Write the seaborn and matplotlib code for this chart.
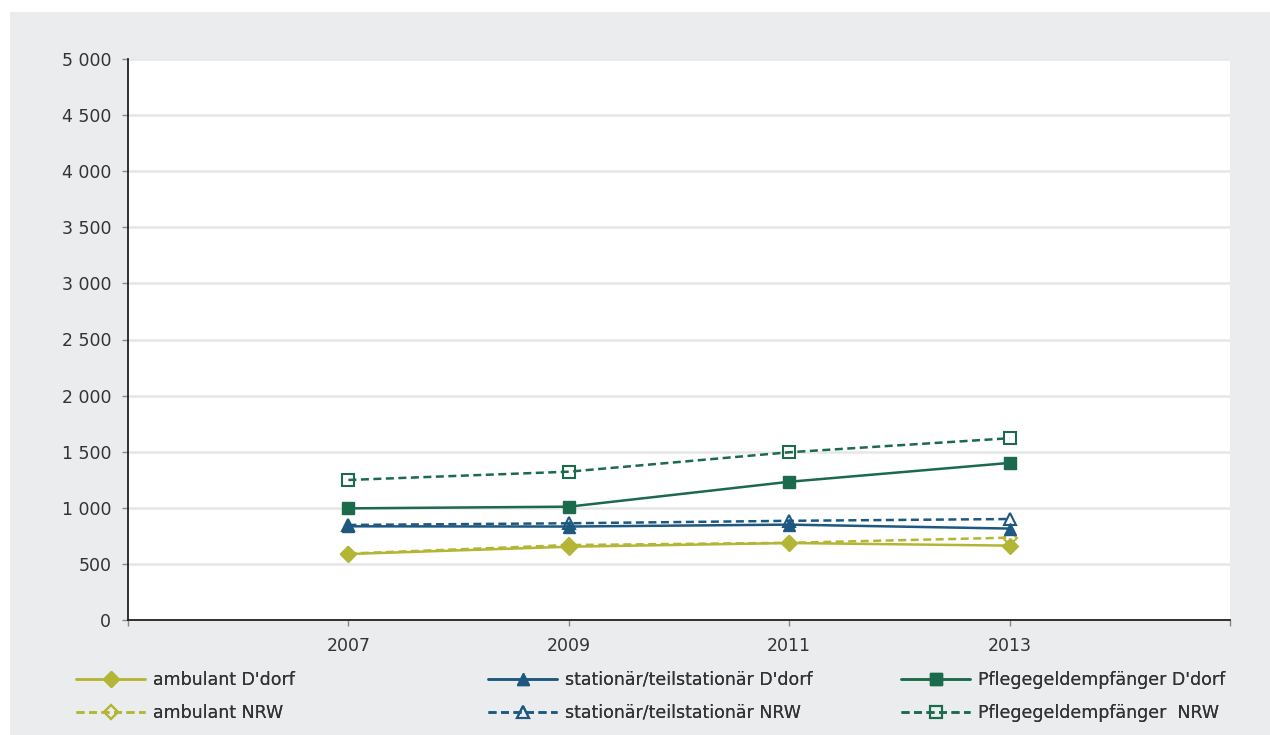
import numpy as np
import pandas as pd
import matplotlib
matplotlib.use("Agg")
import matplotlib.pyplot as plt
import seaborn as sns
from matplotlib.patches import Rectangle
from matplotlib.ticker import FuncFormatter

# ======================
# Daten
# ======================
years = [2007, 2009, 2011, 2013]

ambulant_ddorf = [588, 653, 686, 663]
ambulant_nrw = [592, 668, 688, 734]
stationaer_ddorf = [835, 833, 850, 815]
stationaer_nrw = [847, 862, 884, 900]
pflegegeld_ddorf = [995, 1010, 1232, 1400]
pflegegeld_nrw = [1248, 1322, 1495, 1620]

labels = [
    "ambulant D'dorf", "ambulant NRW",
    "stationär/teilstationär D'dorf", "stationär/teilstationär NRW",
    "Pflegegeldempfänger D'dorf", "Pflegegeldempfänger  NRW",
]
y_ticks = [0, 500, 1000, 1500, 2000, 2500, 3000, 3500, 4000, 4500, 5000]
x_ticks = [2005, 2007, 2009, 2011, 2013, 2015]

c_amb = "#b3b634"
c_stat = "#1d5880"
c_pfl = "#1b6a4c"
bg = "#ebecee"
txt = "#333333"

series = [
    (ambulant_ddorf, c_amb, "D", False),
    (ambulant_nrw, c_amb, "D", True),
    (stationaer_ddorf, c_stat, "^", False),
    (stationaer_nrw, c_stat, "^", True),
    (pflegegeld_ddorf, c_pfl, "s", False),
    (pflegegeld_nrw, c_pfl, "s", True),
]

sns.set_style("white")
plt.rcParams["font.family"] = ["DejaVu Sans"]
plt.rcParams["font.size"] = 12.5

fig = plt.figure(figsize=(12.7, 7.35), dpi=100, facecolor="white")
fig.patches.append(Rectangle((10 / 1270, 0), 1, (735 - 12) / 735,
                             transform=fig.transFigure, facecolor=bg,
                             edgecolor="none", zorder=-10))
ax = fig.add_axes([128 / 1270, 1 - 620 / 735, (1230 - 128) / 1270, (620 - 59) / 735])
ax.set_facecolor("white")

for (vals, col, mk, nrw), lab in zip(series, labels):
    df = pd.DataFrame({"Jahr": years, "Wert": vals})
    kw = dict(color=col, marker=mk, markeredgecolor=col, linewidth=1.8)
    if mk == "D":
        kw["markersize"] = 8.5 if not nrw else 7.5
    elif mk == "^":
        kw["markersize"] = 9 if not nrw else 8.5
    else:
        kw["markersize"] = 9 if not nrw else 8
    if nrw:
        kw["dashes"] = (3.2, 1.8)
        kw["markerfacecolor"] = "none"
        kw["markeredgewidth"] = 1.5
    else:
        kw["markerfacecolor"] = col
        kw["markeredgewidth"] = 1
    sns.lineplot(data=df, x="Jahr", y="Wert", ax=ax, label=lab, **kw)

h, l = ax.get_legend_handles_labels()
ax.get_legend().remove()

ax.set_xlim(2005, 2015)
ax.set_ylim(0, 5000)
ax.set_xticks(x_ticks)
ax.set_xticklabels([""] + [str(y) for y in years] + [""])
ax.set_yticks(y_ticks)
ax.yaxis.set_major_formatter(FuncFormatter(lambda v, p: f"{int(v):,}".replace(",", " ")))
ax.set_xlabel("")
ax.set_ylabel("")
ax.grid(axis="y", color="#e6e6e6", linewidth=1.8)
ax.grid(axis="x", visible=False)
ax.set_axisbelow(True)

for s in ["top", "right"]:
    ax.spines[s].set_visible(False)
for s in ["left", "bottom"]:
    ax.spines[s].set_color("#222222")
    ax.spines[s].set_linewidth(1.3)
ax.tick_params(axis="both", colors="#888888", labelcolor=txt, length=4, width=1, labelsize=12.5)
ax.tick_params(axis="y", direction="out", left=True, pad=8)
ax.tick_params(axis="x", direction="out", bottom=True, pad=8)

# Legende: drei Spalten
col_x = [76 / 1270, 488 / 1270, 901 / 1270]
for i, x0 in enumerate(col_x):
    leg = fig.legend(h[2 * i:2 * i + 2], l[2 * i:2 * i + 2], loc="upper left",
                     bbox_to_anchor=(x0, 1 - 671 / 735), frameon=False,
                     handlelength=4.0, handletextpad=0.45, labelspacing=0.85,
                     fontsize=12.5, labelcolor=txt, borderaxespad=0, borderpad=0)
    fig.add_artist(leg)

plt.savefig("out.png", dpi=100, facecolor=fig.get_facecolor())
plt.close()
